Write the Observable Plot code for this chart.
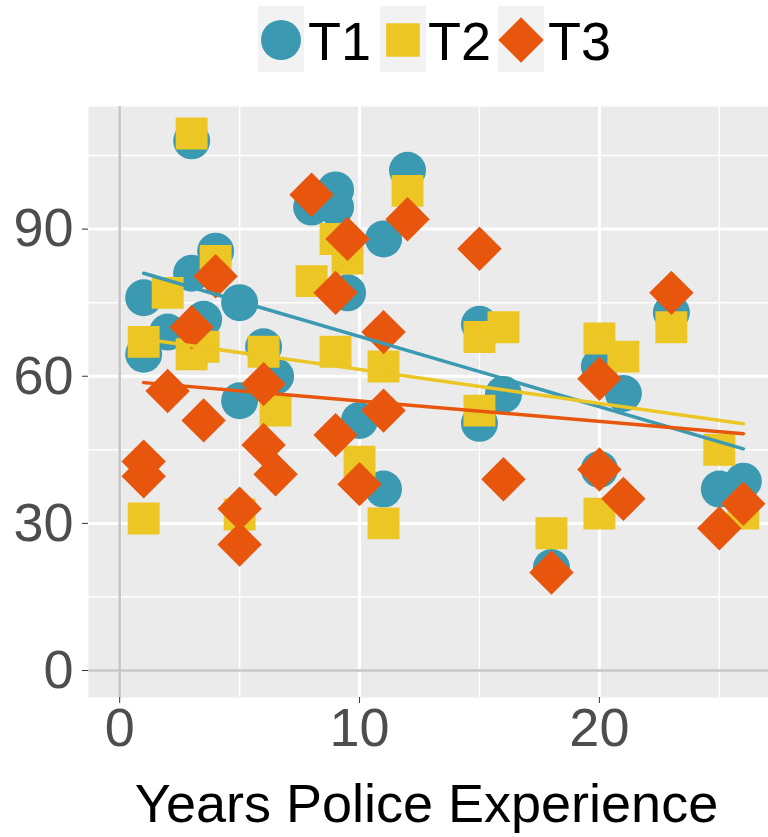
<!DOCTYPE html>
<html>
<head>
<meta charset="utf-8">
<script src="https://cdn.jsdelivr.net/npm/d3@7"></script>
<script src="https://cdn.jsdelivr.net/npm/@observablehq/plot@0.6"></script>
<style>
  body { margin: 0; background: #fff; font-family: "Liberation Sans", Arial, Helvetica, sans-serif; }
  #legend { width: 768px; height: 100px; display: block; }
  #chart { width: 768px; }
</style>
</head>
<body>
<div id="legend"></div>
<div id="chart"></div>
<script>
// ---- data ----
const seriesNames = ["T1", "T2", "T3"];
const seriesColors = ["#3B9AB2", "#EBC624", "#E8560D"];
const seriesSymbols = ["circle", "square", "diamond2"];

const t1X = [1, 1, 2, 3, 3, 3.5, 4, 5, 5, 6, 6.5, 8, 9, 9, 9.5, 10, 11, 11, 12, 15, 15, 16, 18, 20, 20, 21, 23, 25, 26];
const t1Y = [76, 64.5, 69, 108, 81, 71.6, 85.5, 75, 55, 66, 60, 94.5, 98, 94.5, 77, 51, 88, 37, 102, 70.6, 50.4, 56.3, 21, 62, 41, 56.5, 73, 37, 38.6];

const t2X = [1, 1, 2, 3, 3, 3.5, 4, 5, 6, 6.5, 8, 9, 9.5, 9, 12, 11, 10, 11, 15, 16, 15, 18, 20, 21, 20, 23, 25, 26];
const t2Y = [67, 31, 77, 109.5, 64.5, 66, 83.5, 31.8, 65, 53, 79.4, 88, 84, 65, 97.8, 62, 42.6, 30, 68, 70, 53, 28, 67.7, 64, 32, 70, 45, 32];

const t3X = [1, 1, 2, 3, 3.5, 4, 5, 5, 6, 6, 6.5, 8, 9, 9.5, 9, 10, 11, 11, 12, 15, 16, 18, 20, 20, 21, 23, 25, 26];
const t3Y = [42.6, 39.6, 57, 70, 51, 80.4, 33, 25.7, 58.4, 46, 40, 97, 77, 88, 48, 38, 69, 53, 92, 86, 39, 20, 59.5, 41, 35, 77, 29, 34];

// fitted linear trend lines (endpoints)
const fitX = [1, 26];
const t1Fit = [81, 45.2];
const t2Fit = [67.6, 50.3];
const t3Fit = [58.7, 48.3];

const xTicks = [0, 10, 20];
const xMinor = [5, 15, 25];
const yTicks = [0, 30, 60, 90];
const yMinor = [15, 45, 75, 105];
const xTitle = "Years Police Experience";

// ---- build tables ----
const pts = (xs, ys) => xs.map((x, i) => ({x, y: ys[i]}));
const t1 = pts(t1X, t1Y), t2 = pts(t2X, t2Y), t3 = pts(t3X, t3Y);
const f1 = pts(fitX, t1Fit), f2 = pts(fitX, t2Fit), f3 = pts(fitX, t3Fit);

const FONT = "Liberation Sans, Arial, Helvetica, sans-serif";

// ---- legend (above the plot) ----
const lg = d3.select("#legend").append("svg")
  .attr("width", 768).attr("height", 100)
  .style("display", "block");
const keyX = [258, 380, 498];
const textX = [308, 428, 548];
seriesNames.forEach((name, i) => {
  lg.append("rect").attr("x", keyX[i]).attr("y", 6).attr("width", 46).attr("height", 66).attr("fill", "#F2F2F2");
  const rr = [20, 19, 20.5][i];
  lg.append("path")
    .attr("transform", `translate(${keyX[i] + 23},40)`)
    .attr("d", d3.symbol(d3["symbol" + ["Circle", "Square", "Diamond2"][i]], rr * rr * Math.PI)())
    .attr("fill", seriesColors[i]);
  lg.append("text").attr("x", textX[i]).attr("y", 60)
    .attr("font-family", FONT).attr("font-size", 54).attr("fill", "#000")
    .text(name);
});

// ---- chart ----
const chart = Plot.plot({
  width: 768,
  height: 737,
  marginTop: 6,
  marginBottom: 140,
  marginLeft: 88,
  marginRight: -6,
  style: {fontFamily: FONT, background: "#fff", overflow: "visible"},
  x: {domain: [-1.3, 27.3]},
  y: {domain: [-5.5, 115]},
  marks: [
    Plot.frame({fill: "#EBEBEB", stroke: null}),
    Plot.ruleY(yMinor, {stroke: "#fff", strokeWidth: 1.5}),
    Plot.ruleX(xMinor, {stroke: "#fff", strokeWidth: 1.5}),
    Plot.ruleY(yTicks, {stroke: "#fff", strokeWidth: 3}),
    Plot.ruleX(xTicks, {stroke: "#fff", strokeWidth: 3}),
    Plot.ruleX([0], {stroke: "#C4C4C4", strokeWidth: 2.5}),
    Plot.ruleY([0], {stroke: "#C4C4C4", strokeWidth: 2.5}),
    Plot.dot(t1, {x: "x", y: "y", r: 18.5, symbol: seriesSymbols[0], fill: seriesColors[0], stroke: null}),
    Plot.dot(t2, {x: "x", y: "y", r: 18, symbol: seriesSymbols[1], fill: seriesColors[1], stroke: null}),
    Plot.dot(t3, {x: "x", y: "y", r: 20, symbol: seriesSymbols[2], fill: seriesColors[2], stroke: null}),
    Plot.line(f1, {x: "x", y: "y", stroke: seriesColors[0], strokeWidth: 3.5}),
    Plot.line(f2, {x: "x", y: "y", stroke: seriesColors[1], strokeWidth: 3.5}),
    Plot.line(f3, {x: "x", y: "y", stroke: seriesColors[2], strokeWidth: 3.5}),
    Plot.axisY(yTicks, {fontSize: 54, color: "#4D4D4D", tickSize: 6, tickPadding: 9, label: null, stroke: "#333"}),
    Plot.axisX(xTicks, {fontSize: 54, color: "#4D4D4D", tickSize: 6, tickPadding: 4, label: null, stroke: "#333"}),
    Plot.text([xTitle], {frameAnchor: "bottom", dy: 124, fontSize: 54, fill: "#000", textAnchor: "middle", dx: -5})
  ]
});
document.getElementById("chart").appendChild(chart);
</script>
</body>
</html>
